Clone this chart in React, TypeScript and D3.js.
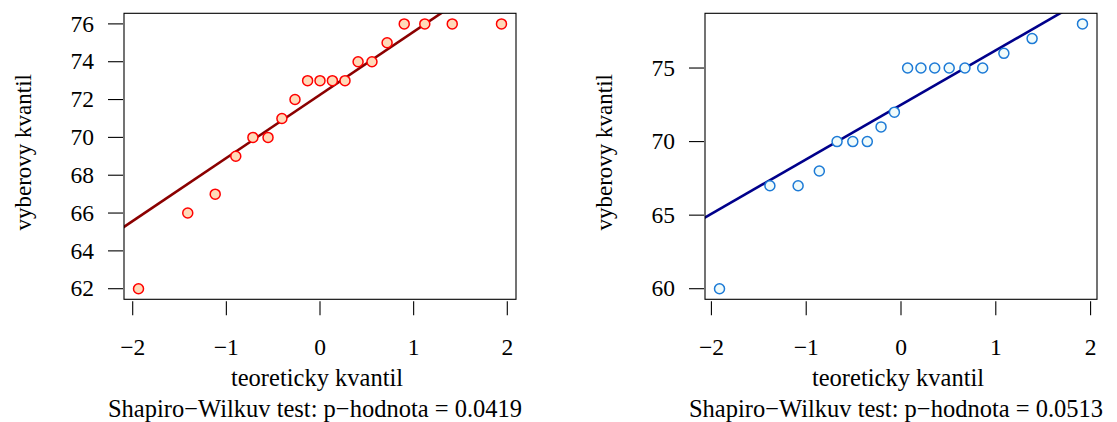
import React from "react";
import * as d3 from "d3";

// Sample values for the two groups
const sampleA: number[] = [62, 66, 67, 69, 70, 70, 71, 72, 73, 73, 73, 73, 74, 74, 75, 76, 76, 76, 76];
const sampleB: number[] = [60, 67, 67, 68, 70, 70, 70, 71, 72, 75, 75, 75, 75, 75, 75, 76, 77, 78];

const ticksX: number[] = [-2, -1, 0, 1, 2];
const ticksYA: number[] = [62, 64, 66, 68, 70, 72, 74, 76];
const ticksYB: number[] = [60, 65, 70, 75];

const pValues: string[] = ["0.0419", "0.0513"];

const xTitle = "teoreticky kvantil";
const yTitle = "vyberovy kvantil";

const SERIF = '"Liberation Serif", "Times", serif';
const tickStyle: React.CSSProperties = { fontFamily: SERIF, fontSize: "23.5px" };
const titleStyle: React.CSSProperties = { fontFamily: SERIF, fontSize: "24.5px" };
const yTitleStyle: React.CSSProperties = { fontFamily: SERIF, fontSize: "23px" };

// Inverse of the standard normal CDF (Acklam's rational approximation)
function qnorm(p: number): number {
  const a = [-3.969683028665376e1, 2.209460984245205e2, -2.759285104469687e2, 1.38357751867269e2, -3.066479806614716e1, 2.506628277459239];
  const b = [-5.447609879822406e1, 1.615858368580409e2, -1.556989798598866e2, 6.680131188771972e1, -1.328068155288572e1];
  const c = [-7.784894002430293e-3, -3.223964580411365e-1, -2.400758277161838, -2.549732539343734, 4.374664141464968, 2.938163982698783];
  const d = [7.784695709041462e-3, 3.224671290700398e-1, 2.445134137142996, 3.754408661907416];
  const pLow = 0.02425;
  if (p < pLow) {
    const q = Math.sqrt(-2 * Math.log(p));
    return (((((c[0] * q + c[1]) * q + c[2]) * q + c[3]) * q + c[4]) * q + c[5]) / ((((d[0] * q + d[1]) * q + d[2]) * q + d[3]) * q + 1);
  }
  if (p > 1 - pLow) {
    const q = Math.sqrt(-2 * Math.log(1 - p));
    return -(((((c[0] * q + c[1]) * q + c[2]) * q + c[3]) * q + c[4]) * q + c[5]) / ((((d[0] * q + d[1]) * q + d[2]) * q + d[3]) * q + 1);
  }
  const q = p - 0.5;
  const r = q * q;
  return ((((((a[0] * r + a[1]) * r + a[2]) * r + a[3]) * r + a[4]) * r + a[5]) * q) / (((((b[0] * r + b[1]) * r + b[2]) * r + b[3]) * r + b[4]) * r + 1);
}

// Plotting positions for a normal QQ plot
function ppoints(n: number): number[] {
  const a = n <= 10 ? 3 / 8 : 0.5;
  return d3.range(n).map((i) => (i + 1 - a) / (n + 1 - 2 * a));
}

function padded(ext: [number, number]): [number, number] {
  const r = ext[1] - ext[0];
  return [ext[0] - 0.04 * r, ext[1] + 0.04 * r];
}

interface PanelProps {
  values: number[];
  yTicks: number[];
  left: number;
  pval: string;
  pointStroke: string;
  pointFill: string;
  lineColor: string;
  id: string;
}

const TOP = 13.3;
const BOTTOM = 299.3;
const WIDTH = 392;

function QQPanel({ values, yTicks, left, pval, pointStroke, pointFill, lineColor, id }: PanelProps) {
  const sorted = values.slice().sort((a, b) => a - b);
  const theo = ppoints(sorted.length).map(qnorm);
  const x = d3.scaleLinear().domain(padded(d3.extent(theo) as [number, number])).range([left, left + WIDTH]);
  const y = d3.scaleLinear().domain(padded(d3.extent(sorted) as [number, number])).range([BOTTOM, TOP]);

  // Reference line through the first and third quartiles
  const y1 = d3.quantile(sorted, 0.25)!;
  const y2 = d3.quantile(sorted, 0.75)!;
  const x1 = qnorm(0.25);
  const x2 = qnorm(0.75);
  const slope = (y2 - y1) / (x2 - x1);
  const icpt = y1 - slope * x1;
  const [dx0, dx1] = x.domain();
  const linePath = d3.line<number>()
    .x((v) => x(v))
    .y((v) => y(icpt + slope * v))([dx0 - 1, dx1 + 1]);

  const cx = left + WIDTH / 2;
  return (
    <g>
      <defs>
        <clipPath id={id}>
          <rect x={left} y={TOP} width={WIDTH} height={BOTTOM - TOP} />
        </clipPath>
      </defs>
      <path d={linePath || ""} stroke={lineColor} strokeWidth={2.6} fill="none" clipPath={`url(#${id})`} />
      {sorted.map((v, i) => (
        <circle key={i} cx={x(theo[i])} cy={y(v)} r={5} fill={pointFill} stroke={pointStroke} strokeWidth={1.5} />
      ))}
      <rect x={left} y={TOP} width={WIDTH} height={BOTTOM - TOP} fill="none" stroke="#000" strokeWidth={1.1} />
      {/* x axis */}
      {ticksX.map((t) => (
        <g key={`x${t}`}>
          <line x1={x(t)} x2={x(t)} y1={BOTTOM + 2} y2={BOTTOM + 16} stroke="#000" strokeWidth={1.1} />
          <text x={x(t)} y={355} textAnchor="middle" style={tickStyle}>
            {t < 0 ? `\u2212${Math.abs(t)}` : `${t}`}
          </text>
        </g>
      ))}
      {/* y axis */}
      {yTicks.map((t) => (
        <g key={`y${t}`}>
          <line x1={left - 16} x2={left - 1} y1={y(t)} y2={y(t)} stroke="#000" strokeWidth={1.1} />
          <text x={left - 30} y={y(t)} dy="0.33em" textAnchor="end" style={tickStyle}>
            {t}
          </text>
        </g>
      ))}
      <text x={cx - 3} y={386} textAnchor="middle" style={titleStyle}>
        {xTitle}
      </text>
      <text x={cx - 5} y={417} textAnchor="middle" style={titleStyle}>
        {`Shapiro\u2212Wilkuv test: p\u2212hodnota = ${pval}`}
      </text>
      <text
        transform={`translate(${left - 93},${(TOP + BOTTOM) / 2 - 4}) rotate(-90)`}
        textAnchor="middle"
        style={yTitleStyle}
      >
        {yTitle}
      </text>
    </g>
  );
}

export default function App() {
  return (
    <svg width={1117} height={422} style={{ position: "absolute", left: 0, top: 0, background: "#fff" }}>
      <rect width={1117} height={422} fill="#fff" />
      <QQPanel values={sampleA} yTicks={ticksYA} left={124} pval={pValues[0]} pointStroke="#ff0000" pointFill="#ffdab9" lineColor="#8b0000" id="clipA" />
      <QQPanel values={sampleB} yTicks={ticksYB} left={705} pval={pValues[1]} pointStroke="#1c7ad6" pointFill="#f0fbfb" lineColor="#00008b" id="clipB" />
    </svg>
  );
}
